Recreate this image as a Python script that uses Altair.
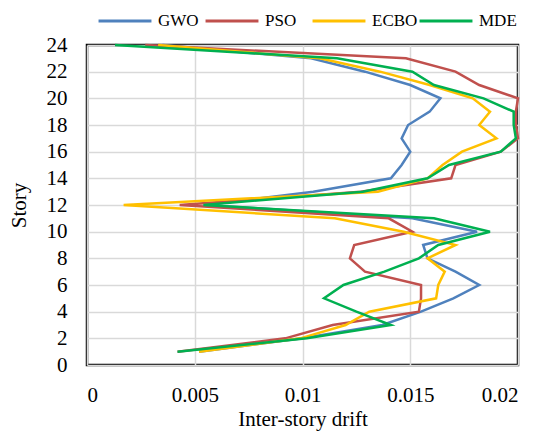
import altair as alt
import pandas as pd

stories = list(range(1, 25))
gwo = [0.0052, 0.0100, 0.0137, 0.0155, 0.0170, 0.0182, 0.0171, 0.0158, 0.0156, 0.0181, 0.0151, 0.0055,
       0.0105, 0.0141, 0.0146, 0.0150, 0.0146, 0.0149, 0.0159, 0.0164, 0.0150, 0.0129, 0.0104, 0.0035]
pso = [0.0042, 0.0092, 0.0114, 0.0154, 0.0155, 0.0155, 0.0129, 0.0122, 0.0124, 0.0151, 0.0140, 0.0043,
       0.0127, 0.0169, 0.0171, 0.0192, 0.0200, 0.0199, 0.0199, 0.0200, 0.0182, 0.0171, 0.0148, 0.0027]
ecbo = [0.0052, 0.0099, 0.0120, 0.0131, 0.0162, 0.0163, 0.0166, 0.0158, 0.0171, 0.0147, 0.0115, 0.0017,
        0.0135, 0.0158, 0.0165, 0.0174, 0.0190, 0.0182, 0.0187, 0.0179, 0.0159, 0.0136, 0.0108, 0.0033]
mde = [0.0042, 0.0102, 0.0141, 0.0125, 0.0110, 0.0119, 0.0138, 0.0154, 0.0163, 0.0187, 0.0161, 0.0054,
       0.0128, 0.0158, 0.0168, 0.0192, 0.0199, 0.0198, 0.0198, 0.0184, 0.0161, 0.0151, 0.0116, 0.0013]

series_names = ["GWO", "PSO", "ECBO", "MDE"]
series_colors = ["#4F81BD", "#C0504D", "#FFC000", "#00B050"]

rows = []
for name, vals in zip(series_names, [gwo, pso, ecbo, mde]):
    for s, v in zip(stories, vals):
        rows.append({"series": name, "story": s, "drift": v})
df = pd.DataFrame(rows)

FONT = "Liberation Serif"

chart = alt.Chart(df).mark_line(strokeWidth=2.5, clip=False).encode(
    x=alt.X("drift:Q", title="Inter-story drift",
            scale=alt.Scale(domain=[0, 0.02], nice=False),
            axis=alt.Axis(values=[0, 0.005, 0.01, 0.015, 0.02], format="~g",
                          grid=True, ticks=False, domain=False, labelPadding=19,
                          titlePadding=3)),
    y=alt.Y("story:Q", title="Story",
            scale=alt.Scale(domain=[0, 24], nice=False),
            axis=alt.Axis(values=list(range(0, 25, 2)), grid=True, ticks=False,
                          domain=False, labelPadding=20, titlePadding=17)),
    color=alt.Color("series:N", title=None,
                    scale=alt.Scale(domain=series_names, range=series_colors),
                    sort=series_names,
                    legend=alt.Legend(orient="none", legendX=10, legendY=-52,
                                      direction="horizontal", columns=4, gridAlign="all",
                                      symbolType="stroke", symbolSize=2800,
                                      symbolStrokeWidth=3, columnPadding=-5,
                                      labelOffset=5, labelFont=FONT, labelFontSize=17,
                                      labelColor="#000000")),
    order=alt.Order("story:Q"),
).properties(
    width=431, height=320,
    background="white",
    autosize=alt.AutoSizeParams(type="none"),
    padding={"left": 87, "top": 45, "right": 22, "bottom": 67},
).configure_view(
    stroke="#000000", strokeWidth=2.5
).configure_axis(
    labelFont=FONT, titleFont=FONT, labelFontSize=21, titleFontSize=21,
    labelColor="#000000", titleColor="#000000", titleFontWeight="normal",
    gridColor="#D9D9D9", gridWidth=1.5
)

chart.save("out.html", embed_options={"renderer": "svg", "actions": False})
